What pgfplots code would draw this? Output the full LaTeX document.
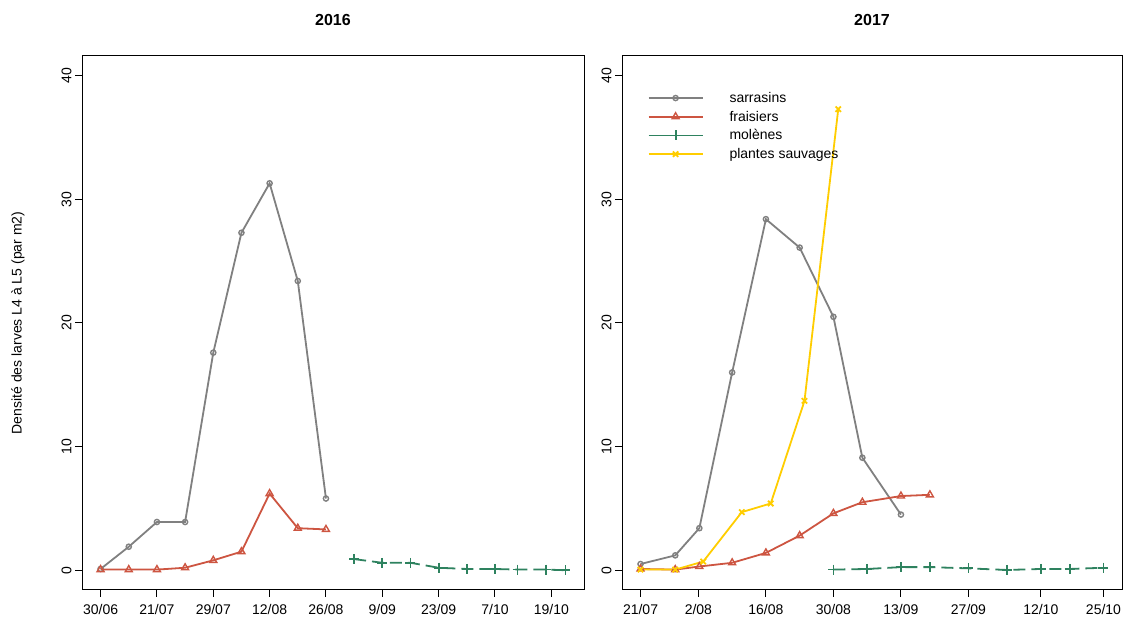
\documentclass[border=0pt]{standalone}
\usepackage{pgfplots}
\pgfplotsset{compat=1.18}
\usepackage{fontspec}
\setmainfont{Liberation Sans}
\definecolor{cgray}{RGB}{128,128,128}
\definecolor{cred}{RGB}{205,85,65}
\definecolor{cgreen}{RGB}{46,130,95}
\definecolor{cgold}{RGB}{255,205,0}
\pgfplotsset{
 rstyle/.style={scale only axis, height=534pt,
  ymin=-1.6, ymax=41.6, ytick={0,10,20,30,40},
  tick align=outside, major tick length=7pt, tick style={black, line width=1pt},
  axis line style={black, line width=1pt}, xtick pos=bottom, ytick pos=left,
  yticklabel style={rotate=90, anchor=south, font=\fontsize{14}{16}\selectfont},
  xticklabel style={font=\fontsize{14}{16}\selectfont, yshift=-4pt},
  /pgf/number format/assume math mode=true,
  title style={font=\fontsize{16}{18}\selectfont\bfseries, yshift=21pt},
 },
 sar/.style={cgray, line width=1.8pt, mark=o, mark size=2.6pt, mark options={solid, line width=1.4pt}},
 fra/.style={cred, line width=1.8pt, mark=triangle, mark size=4pt, mark options={solid, line width=1.4pt}},
 mol/.style={cgreen, line width=1.8pt, dash pattern=on 12pt off 6pt, mark=+, mark size=5pt, mark options={solid, line width=1.8pt}},
 sau/.style={cgold, line width=1.8pt, mark=x, mark size=3.8pt, mark options={solid, line width=1.8pt}},
}
\begin{document}
\begin{tikzpicture}[x=1pt,y=1pt]
\path[use as bounding box] (0,0) rectangle (1128,628);
\node[rotate=90, font=\fontsize{14}{16}\selectfont] at (18,305) {Densité des larves L4 à L5 (par m2)};
\begin{axis}[rstyle, at={(82pt,38pt)}, anchor=south west, width=502pt,
  xmin=-0.66, xmax=17.16, xtick={0,2,4,6,8,10,12,14,16},
  xticklabels={30/06,21/07,29/07,12/08,26/08,9/09,23/09,7/10,19/10},
  title={2016}]
\addplot[sar] coordinates {(0,0.1)(1,1.9)(2,3.9)(3,3.9)(4,17.6)(5,27.3)(6,31.3)(7,23.4)(8,5.8)};
\addplot[fra] coordinates {(0,0.05)(1,0.05)(2,0.05)(3,0.2)(4,0.8)(5,1.5)(6,6.2)(7,3.4)(8,3.3)};
\addplot[mol] coordinates {(9,0.9)(10,0.6)(11,0.6)(12,0.2)(13,0.1)(14,0.1)(14.8,0.05)(15.8,0.05)(16.5,0)};
\end{axis}
\begin{axis}[rstyle, at={(622pt,38pt)}, anchor=south west, width=500pt,
  xmin=-3.84, xmax=99.84, xtick={0,12,26,40,54,68,83,96},
  xticklabels={21/07,2/08,16/08,30/08,13/09,27/09,12/10,25/10},
  title={2017},
  legend style={at={(0.045,0.94)}, anchor=north west, draw=none, fill=none,
   font=\fontsize{14}{16}\selectfont, row sep=3pt},
  legend cell align=left,
  legend image code/.code={\draw[mark repeat=2,mark phase=2,#1,solid] plot coordinates {(0pt,0pt)(27pt,0pt)(54pt,0pt)};}
  ]
\addplot[sar] coordinates {(0,0.5)(7.2,1.2)(12.2,3.4)(19,16)(26,28.4)(33,26.1)(40,20.5)(46,9.1)(54,4.5)};
\addlegendentry{\hspace{24pt}sarrasins}
\addplot[fra] coordinates {(0,0.1)(7.2,0.05)(12.2,0.3)(19,0.6)(26,1.4)(33,2.8)(40,4.6)(46,5.5)(54,6.0)(60,6.1)};
\addlegendentry{\hspace{24pt}fraisiers}
\addplot[mol] coordinates {(40,0.05)(47,0.1)(54,0.25)(60,0.25)(68,0.15)(76,0.02)(83,0.1)(89,0.1)(96,0.2)};
\addlegendentry{\hspace{24pt}molènes}
\addplot[sau] coordinates {(0,0.05)(7.2,0.05)(13,0.7)(21,4.7)(27,5.4)(34,13.7)(41,37.3)};
\addlegendentry{\hspace{24pt}plantes sauvages}
\end{axis}
\end{tikzpicture}
\end{document}
